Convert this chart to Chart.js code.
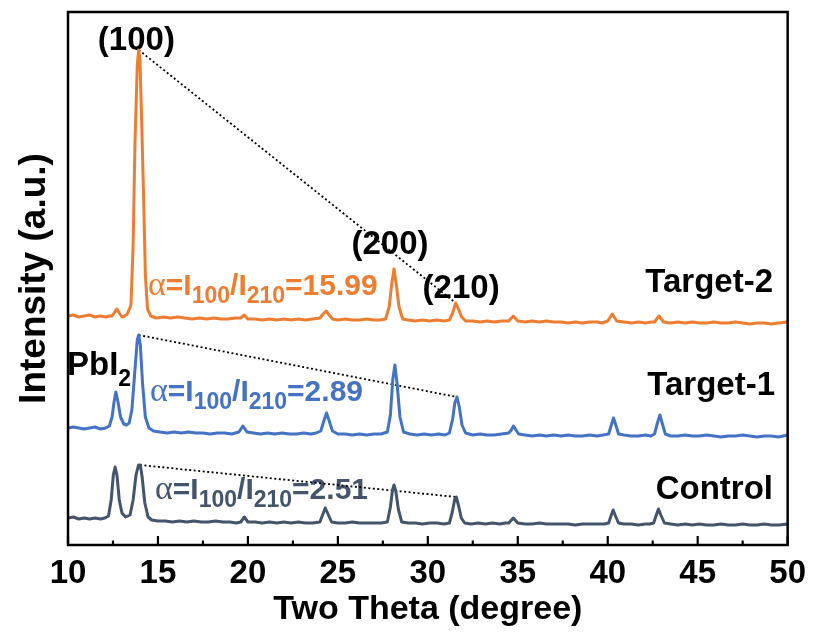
<!DOCTYPE html>
<html>
<head>
<meta charset="utf-8">
<script src="https://cdn.jsdelivr.net/npm/chart.js@4.4.0/dist/chart.umd.min.js"></script>
<style>
  body { margin: 0; background: #fff; }
</style>
</head>
<body>
<canvas id="xrd" width="815" height="632"></canvas>
<script>
// XRD patterns (2theta, intensity a.u. incl. vertical offset)
const target2 = [
  [10.0,229],[10.3,230],[10.6,228],[10.9,229],[11.2,230],[11.5,228],[11.8,229],[12.1,228],[12.3,229],[12.45,229],
  [12.6,233],[12.72,236],[12.85,232],[13.0,228],[13.15,229],[13.3,231],[13.5,240],[13.62,300],[13.72,400],[13.85,480],
  [13.93,495],[14.0,485],[14.1,420],[14.2,350],[14.3,270],[14.42,236],[14.6,229],[14.9,227],[15.3,228],[15.7,227],
  [16.1,228],[16.5,227],[16.9,226],[17.3,227],[17.7,226],[18.1,227],[18.5,226],[18.9,226],[19.3,227],[19.6,227],
  [19.8,230],[20.0,226],[20.4,226],[20.8,225],[21.2,226],[21.6,225],[22.0,226],[22.4,225],[22.8,226],[23.2,225],
  [23.6,226],[24.0,227],[24.18,231],[24.35,234],[24.52,230],[24.7,226],[25.0,225],[25.4,226],[25.8,225],[26.2,225],
  [26.6,226],[27.0,225],[27.35,225],[27.65,226],[27.85,238],[28.0,262],[28.12,276],[28.25,260],[28.4,238],[28.6,226],
  [28.9,225],[29.3,224],[29.7,225],[30.1,224],[30.5,225],[30.9,224],[31.2,225],[31.38,232],[31.55,242],[31.7,236],
  [31.88,228],[32.1,224],[32.5,224],[32.9,223],[33.3,224],[33.7,223],[34.1,224],[34.5,224],[34.75,229],[35.0,224],
  [35.4,223],[35.8,224],[36.2,223],[36.6,224],[37.0,223],[37.4,223],[37.8,222],[38.2,223],[38.6,222],[39.0,223],
  [39.4,223],[39.7,222],[40.0,224],[40.25,231],[40.5,224],[40.9,223],[41.3,222],[41.7,223],[42.1,222],[42.4,223],
  [42.6,223],[42.85,229],[43.1,223],[43.5,222],[43.9,223],[44.3,222],[44.7,223],[45.1,222],[45.5,222],[45.9,223],
  [46.3,222],[46.7,222],[47.1,223],[47.5,222],[47.9,221],[48.3,222],[48.7,222],[49.1,221],[49.5,222],[50.0,223]
];

const target1 = [
  [10.0,117],[10.3,118],[10.6,117],[10.9,116],[11.2,117],[11.5,118],[11.8,116],[12.1,117],[12.3,119],[12.45,128],
  [12.56,143],[12.66,153],[12.78,143],[12.92,128],[13.1,121],[13.25,120],[13.4,122],[13.55,135],[13.7,170],[13.85,205],
  [13.93,210],[14.02,200],[14.15,160],[14.3,128],[14.5,117],[14.75,114],[15.1,113],[15.5,112],[15.9,113],[16.3,112],
  [16.7,113],[17.1,112],[17.5,112],[17.9,111],[18.3,112],[18.7,112],[19.1,111],[19.5,113],[19.72,119],[19.95,113],
  [20.3,112],[20.7,111],[21.1,112],[21.5,111],[21.9,112],[22.3,111],[22.7,111],[23.1,112],[23.5,111],[23.8,112],
  [24.05,114],[24.22,124],[24.37,132],[24.52,124],[24.7,114],[25.0,111],[25.4,111],[25.8,110],[26.2,111],[26.6,110],
  [27.0,111],[27.4,111],[27.75,113],[27.92,130],[28.05,165],[28.17,180],[28.3,160],[28.45,128],[28.65,113],[29.0,111],
  [29.4,110],[29.8,111],[30.2,110],[30.6,111],[30.95,110],[31.2,112],[31.38,126],[31.5,142],[31.62,148],[31.75,138],
  [31.9,120],[32.1,112],[32.5,110],[32.9,111],[33.3,110],[33.7,110],[34.1,111],[34.5,112],[34.64,115],[34.76,119],
  [34.9,115],[35.05,111],[35.4,110],[35.8,109],[36.2,110],[36.6,109],[37.0,110],[37.4,109],[37.8,110],[38.2,109],
  [38.6,109],[39.0,110],[39.4,109],[39.75,110],[40.05,111],[40.2,120],[40.32,127],[40.45,120],[40.6,111],[40.9,110],
  [41.3,109],[41.7,109],[42.1,110],[42.4,109],[42.6,111],[42.76,122],[42.9,130],[43.04,121],[43.2,111],[43.5,109],
  [43.9,109],[44.3,110],[44.7,109],[45.1,109],[45.5,110],[45.9,109],[46.3,108],[46.7,109],[47.1,109],[47.5,110],
  [47.9,109],[48.3,108],[48.7,109],[49.1,109],[49.5,108],[50.0,110]
];

const control = [
  [10.0,27],[10.3,28],[10.6,26],[10.9,27],[11.2,26],[11.5,27],[11.8,26],[12.05,27],[12.25,29],[12.4,45],
  [12.52,70],[12.62,78],[12.72,70],[12.85,45],[13.0,32],[13.2,28],[13.45,30],[13.62,45],[13.78,70],[13.92,80],
  [14.02,80],[14.12,68],[14.27,42],[14.45,28],[14.65,25],[15.0,24],[15.4,24],[15.8,23],[16.2,24],[16.6,23],
  [17.0,24],[17.4,23],[17.8,23],[18.2,24],[18.6,23],[19.0,23],[19.35,22],[19.6,23],[19.8,28],[20.0,23],
  [20.4,23],[20.8,22],[21.2,23],[21.6,22],[22.0,23],[22.4,22],[22.8,23],[23.2,22],[23.6,22],[24.0,23],
  [24.17,31],[24.3,37],[24.45,31],[24.65,23],[25.0,22],[25.4,22],[25.8,23],[26.2,22],[26.6,22],[27.0,22],
  [27.4,22],[27.75,23],[27.92,38],[28.03,54],[28.12,60],[28.22,54],[28.36,36],[28.55,23],[28.9,22],[29.3,22],
  [29.7,21],[30.1,22],[30.5,22],[30.9,21],[31.2,22],[31.36,33],[31.5,46],[31.58,48],[31.7,40],[31.86,27],
  [32.05,22],[32.4,21],[32.8,22],[33.2,21],[33.6,22],[34.0,21],[34.3,22],[34.5,22],[34.75,27],[35.0,22],
  [35.4,21],[35.8,21],[36.2,22],[36.6,21],[37.0,21],[37.4,21],[37.8,21],[38.2,20],[38.6,21],[39.0,21],
  [39.4,21],[39.8,21],[40.05,22],[40.18,29],[40.3,35],[40.43,29],[40.6,22],[40.9,21],[41.3,21],[41.7,20],
  [42.1,21],[42.35,21],[42.55,22],[42.7,30],[42.82,36],[42.95,30],[43.15,22],[43.5,21],[43.9,20],[44.3,21],
  [44.7,20],[45.1,21],[45.5,20],[45.9,20],[46.3,21],[46.7,20],[47.1,20],[47.5,21],[47.9,20],[48.3,20],
  [48.7,21],[49.1,20],[49.5,20],[50.0,21]
];

// (100) -> (210) peak tops used for the dotted ratio guides
const guide2 = [[13.93,495],[31.55,242]];
const guide1 = [[13.93,210],[31.62,148]];
const guide0 = [[14.0,80],[31.58,48]];

const seriesNames = ['Target-2', 'Target-1', 'Control'];
const ratios = ['15.99', '2.89', '2.51'];
const colors = ['#ED7D31', '#4472C4', '#44546A'];
const peakLabels = ['(100)', '(200)', '(210)'];

const toXY = arr => arr.map(p => ({ x: p[0], y: p[1] }));
const sansB = '"Liberation Sans", Arial, sans-serif';

function lineSet(arr, color) {
  return {
    data: toXY(arr),
    borderColor: color,
    borderWidth: 3,
    borderJoinStyle: 'round',
    pointRadius: 0,
    tension: 0,
    fill: false
  };
}

function guideSet(arr) {
  return {
    data: toXY(arr),
    borderColor: '#000',
    borderWidth: 1.8,
    borderDash: [2, 2.5],
    pointRadius: 0,
    fill: false
  };
}

function drawAlpha(ctx, x, y, value, color) {
  ctx.fillStyle = color;
  ctx.textAlign = 'left';
  ctx.textBaseline = 'alphabetic';
  const parts = [
    ['α', '34px "Liberation Serif", serif', 0],
    ['=I', 'bold 30px ' + sansB, 0],
    ['100', 'bold 23px ' + sansB, 8],
    ['/I', 'bold 30px ' + sansB, 0],
    ['210', 'bold 23px ' + sansB, 8],
    ['=' + value, 'bold 30px ' + sansB, 0]
  ];
  parts.forEach(p => {
    ctx.font = p[1];
    ctx.fillText(p[0], x, y + p[2]);
    x += ctx.measureText(p[0]).width;
  });
}

const annotations = {
  id: 'annotations',
  beforeDatasetsDraw(chart) {
    const ctx = chart.ctx;
    const xs = chart.scales.x;
    ctx.save();
    // peak indices
    ctx.fillStyle = '#000';
    ctx.font = 'bold 33px ' + sansB;
    ctx.textAlign = 'center';
    ctx.textBaseline = 'alphabetic';
    ctx.fillText(peakLabels[0], xs.getPixelForValue(13.8), 50);
    ctx.fillText(peakLabels[1], xs.getPixelForValue(27.9), 254);
    ctx.fillText(peakLabels[2], xs.getPixelForValue(31.85), 298);
    // PbI2
    ctx.textAlign = 'left';
    ctx.fillText('PbI', 67, 375);
    const w = ctx.measureText('PbI').width;
    ctx.font = 'bold 23px ' + sansB;
    ctx.fillText('2', 67 + w, 386);
    // sample names
    ctx.font = 'bold 33px ' + sansB;
    ctx.textAlign = 'right';
    ctx.fillText(seriesNames[0], 773, 292);
    ctx.fillText(seriesNames[1], 775, 395);
    ctx.fillText(seriesNames[2], 773, 499);
    // ratio labels
    drawAlpha(ctx, 148, 295, ratios[0], colors[0]);
    drawAlpha(ctx, 150, 401, ratios[1], colors[1]);
    drawAlpha(ctx, 155, 499, ratios[2], colors[2]);
    ctx.restore();
  },
  afterDraw(chart) {
    const ctx = chart.ctx;
    const a = chart.chartArea;
    const xs = chart.scales.x;
    ctx.save();
    ctx.strokeStyle = '#000';
    ctx.lineWidth = 2.5;
    ctx.strokeRect(a.left, a.top, a.right - a.left, a.bottom - a.top);
    // inward ticks: major at scale ticks, minor halfway
    const ticks = xs.ticks.map(t => t.value);
    ctx.lineWidth = 2.2;
    ticks.forEach((v, i) => {
      const px = xs.getPixelForValue(v);
      ctx.beginPath();
      ctx.moveTo(px, a.bottom);
      ctx.lineTo(px, a.bottom - 9);
      ctx.stroke();
      if (i < ticks.length - 1) {
        const mx = xs.getPixelForValue((v + ticks[i + 1]) / 2);
        ctx.beginPath();
        ctx.moveTo(mx, a.bottom);
        ctx.lineTo(mx, a.bottom - 4.5);
        ctx.stroke();
      }
    });
    ctx.restore();
  }
};

new Chart(document.getElementById('xrd').getContext('2d'), {
  type: 'line',
  data: {
    datasets: [
      lineSet(control, colors[2]),
      lineSet(target1, colors[1]),
      lineSet(target2, colors[0]),
      guideSet(guide2),
      guideSet(guide1),
      guideSet(guide0)
    ]
  },
  options: {
    responsive: false,
    animation: false,
    layout: { padding: { left: 0, right: 25, top: 12, bottom: 0 } },
    plugins: { legend: { display: false }, tooltip: { enabled: false } },
    scales: {
      x: {
        type: 'linear',
        min: 10,
        max: 50,
        afterFit(s) { s.height = 87; },
        grid: { display: false, drawTicks: false },
        border: { display: false },
        ticks: {
          stepSize: 5,
          color: '#000',
          padding: 9,
          font: { family: sansB, size: 33, weight: 'bold' }
        },
        title: {
          display: true,
          text: 'Two Theta (degree)',
          color: '#000',
          padding: { top: 0, bottom: 2 },
          font: { family: sansB, size: 34, weight: 'bold' }
        }
      },
      y: {
        min: 0,
        max: 533,
        afterFit(s) { s.width = 68; },
        grid: { display: false, drawTicks: false },
        border: { display: false },
        ticks: { display: false },
        title: {
          display: true,
          text: 'Intensity (a.u.)',
          color: '#000',
          padding: { top: 13, bottom: 0 },
          font: { family: sansB, size: 37, weight: 'bold' }
        }
      }
    }
  },
  plugins: [annotations]
});
</script>
</body>
</html>
